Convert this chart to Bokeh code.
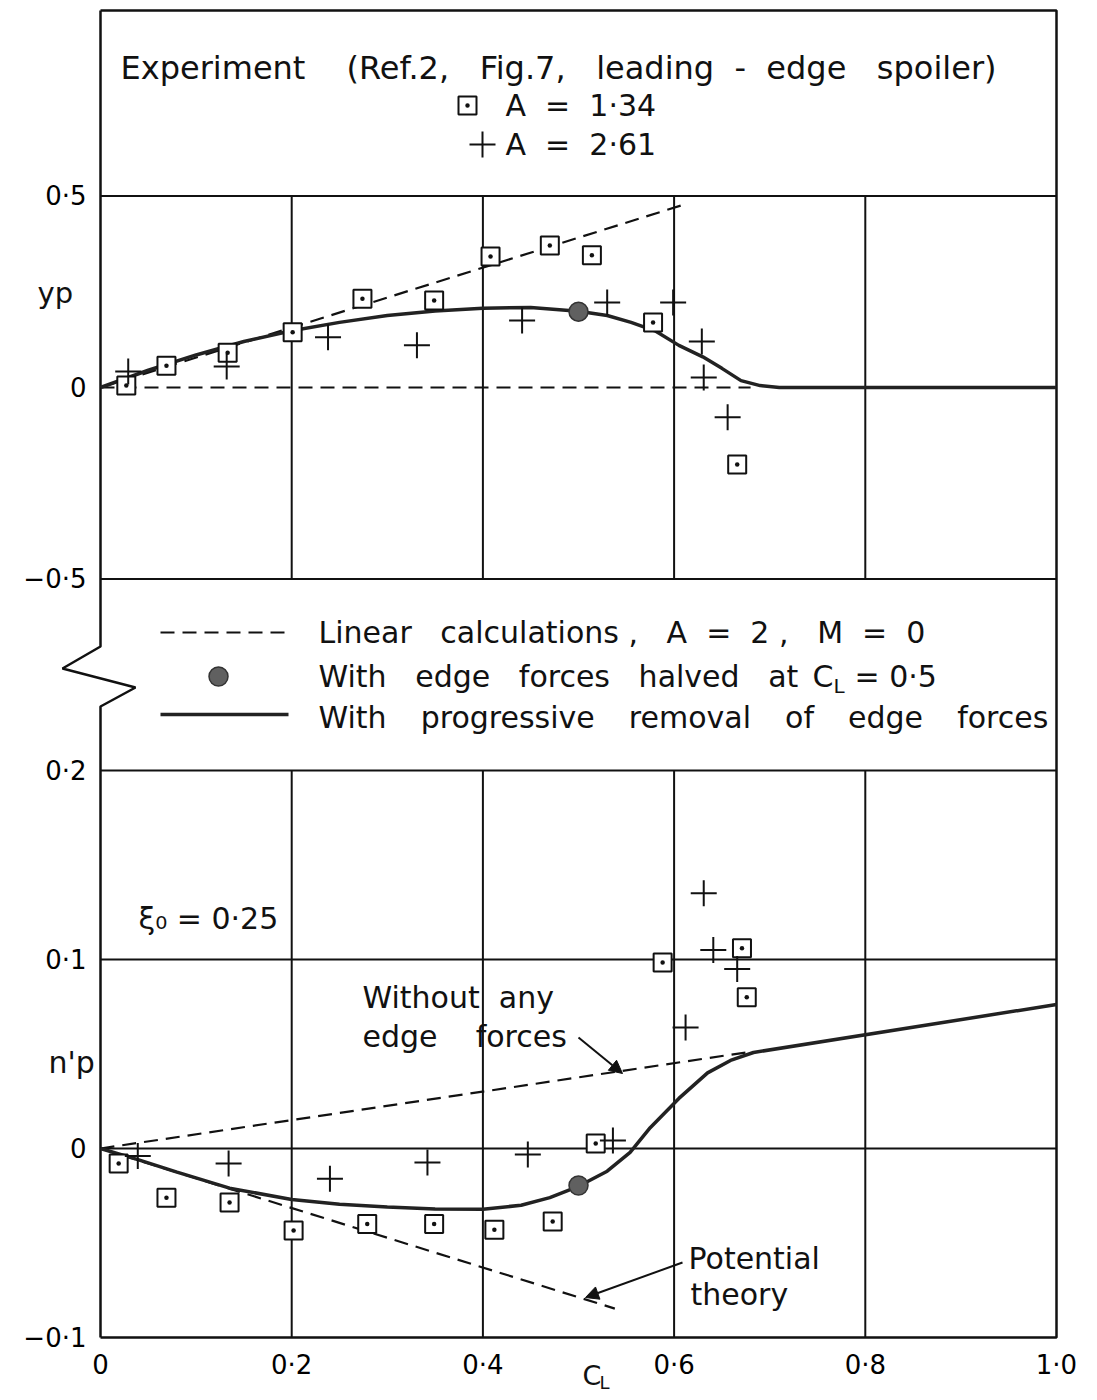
from bokeh.plotting import figure
from bokeh.models import Range1d, FixedTicker, Arrow, NormalHead
from bokeh.core.properties import value
from bokeh.embed import file_html
from bokeh.resources import INLINE

FONT = "DejaVu Sans"
NB = "\u00a0"   # non-collapsing space for the wide lettering gaps
EN = "\u2002"

# ---------------- data ----------------
# upper panel: y_p against C_L
sq_top_cl = [0.027, 0.069, 0.133, 0.201, 0.274, 0.349, 0.408, 0.470, 0.514, 0.578, 0.666]
sq_top_yp = [0.005, 0.057, 0.091, 0.144, 0.232, 0.227, 0.342, 0.371, 0.345, 0.170, -0.201]
pl_top_cl = [0.029, 0.132, 0.238, 0.331, 0.441, 0.530, 0.599, 0.629, 0.631, 0.656]
pl_top_yp = [0.042, 0.055, 0.131, 0.110, 0.175, 0.222, 0.222, 0.120, 0.026, -0.078]
lin_top_cl = [0.0, 0.607]
lin_top_yp = [0.0, 0.475]
zero_top_cl = [0.0, 0.68]
zero_top_yp = [0.0, 0.0]
prog_top_cl = [0.0, 0.05, 0.10, 0.15, 0.20, 0.25, 0.30, 0.35, 0.40, 0.45, 0.50, 0.53,
               0.555, 0.58, 0.605, 0.63, 0.65, 0.67, 0.69, 0.71, 1.0]
prog_top_yp = [0.0, 0.045, 0.085, 0.120, 0.148, 0.170, 0.188, 0.200, 0.207, 0.209, 0.199, 0.188,
               0.170, 0.148, 0.110, 0.080, 0.050, 0.018, 0.005, 0.0, 0.0]
half_cl = [0.5]
half_top_yp = [0.198]

# lower panel: n_p against C_L
sq_bot_cl = [0.019, 0.069, 0.135, 0.202, 0.279, 0.349, 0.412, 0.473, 0.518, 0.588, 0.671, 0.676]
sq_bot_np = [-0.0079, -0.026, -0.0286, -0.0434, -0.040, -0.040, -0.043, -0.0386, 0.0026, 0.0984, 0.106, 0.080]
pl_bot_cl = [0.039, 0.134, 0.240, 0.342, 0.447, 0.536, 0.612, 0.631, 0.641, 0.666]
pl_bot_np = [-0.004, -0.008, -0.016, -0.0074, -0.0032, 0.0042, 0.064, 0.135, 0.105, 0.095]
noedge_cl = [0.0, 0.675]
noedge_np = [0.0, 0.0508]
pot_cl = [0.0, 0.538]
pot_np = [0.0, -0.0847]
prog_bot_cl = [0.0, 0.04, 0.08, 0.135, 0.20, 0.25, 0.30, 0.35, 0.40, 0.44, 0.47, 0.50, 0.53,
               0.554, 0.575, 0.605, 0.635, 0.659, 0.683, 1.0]
prog_bot_np = [0.0, -0.006, -0.0125, -0.021, -0.027, -0.0295, -0.031, -0.032, -0.0322, -0.030, -0.026,
               -0.020, -0.012, -0.002, 0.011, 0.0265, 0.040, 0.0466, 0.0508, 0.0762]
half_bot_np = [-0.0196]

# ticks
x_ticks = [0.0, 0.2, 0.4, 0.6, 0.8, 1.0]
x_tick_labels = ["0", "0·2", "0·4", "0·6", "0·8", "1·0"]
yp_ticks = [0.5, 0.0, -0.5]
yp_tick_labels = ["0·5", "0", "−0·5"]
np_ticks = [0.2, 0.1, 0.0, -0.1]
np_tick_labels = ["0·2", "0·1", "0", "−0·1"]
grid_x = [0.2, 0.4, 0.6, 0.8]

# ---------------- page geometry (page pixels) ----------------
X0, XS = 100.0, 956.0          # C_L = 0 at page x 100, 956 px per unit
NP0, NPS = 1148.0, 1890.0      # n_p = 0 at page y 1148
YP0, YPS = 387.0, 383.0        # y_p = 0 at page y 387
FRAME_L, FRAME_R, FRAME_T, FRAME_B = 20, 1080, 8, 1396


def cx(px):
    return (px - X0) / XS


def cnp(py):
    return (NP0 - py) / NPS


def cyp(py):
    return (YP0 - py) / YPS


x_range = Range1d(cx(FRAME_L), cx(FRAME_R))
np_range = Range1d(cnp(FRAME_B), cnp(FRAME_T))
yp_range = Range1d(cyp(FRAME_B), cyp(FRAME_T))


def np_of_yp(v):
    # same frame pixel for both ranges
    f = (v - yp_range.start) / (yp_range.end - yp_range.start)
    return np_range.start + f * (np_range.end - np_range.start)


p = figure(width=FRAME_R + 10, height=FRAME_B,
           x_range=x_range, y_range=np_range,
           output_backend="svg", toolbar_location=None,
           min_border_left=FRAME_L, min_border_right=10, min_border_top=FRAME_T, min_border_bottom=0,
           outline_line_color=None, background_fill_color="white", border_fill_color="white")
p.extra_y_ranges = {"yp": yp_range}
p.grid.visible = False

# axes fixed on the frame lines
p.xaxis.fixed_location = -0.1
p.xaxis.ticker = FixedTicker(ticks=x_ticks)
p.xaxis.major_label_overrides = dict(zip(x_ticks, x_tick_labels))
left_ticks = [np_of_yp(v) for v in yp_ticks] + np_ticks
p.yaxis.fixed_location = 0.0
p.yaxis.ticker = FixedTicker(ticks=left_ticks)
p.yaxis.major_label_overrides = dict(zip(left_ticks, yp_tick_labels + np_tick_labels))
for ax in (p.xaxis, p.yaxis):
    ax.axis_line_color = None
    ax.major_tick_line_color = None
    ax.minor_tick_line_color = None
    ax.major_tick_in = 0
    ax.major_tick_out = 0
    ax.major_label_text_font = FONT
    ax.major_label_text_font_size = "26px"
    ax.major_label_text_color = "black"
p.xaxis.major_label_standoff = 12
p.yaxis.major_label_standoff = 14

INK = "#111111"
GRID_W = 2

# ---------------- frame and grid ----------------
TOP = cnp(10)
# upper panel grid
p.segment(x0=grid_x, y0=[0.5] * 4, x1=grid_x, y1=[-0.5] * 4, y_range_name="yp",
          line_color=INK, line_width=GRID_W)
p.segment(x0=[0, 0], y0=[0.5, -0.5], x1=[1, 1], y1=[0.5, -0.5], y_range_name="yp",
          line_color=INK, line_width=GRID_W)
# lower panel grid
p.segment(x0=grid_x, y0=[0.2] * 4, x1=grid_x, y1=[-0.1] * 4, line_color=INK, line_width=GRID_W)
p.segment(x0=[0, 0, 0], y0=[0.2, 0.1, 0.0], x1=[1, 1, 1], y1=[0.2, 0.1, 0.0],
          line_color=INK, line_width=GRID_W)
# outer border with break on the left
p.line([0, 1, 1, 0], [TOP, TOP, -0.1, -0.1], line_color=INK, line_width=2.5)
p.line([0, 0, cx(62), cx(135), 0, 0],
       [TOP, cnp(646), cnp(668), cnp(687), cnp(706), -0.1], line_color=INK, line_width=2.5)

# ---------------- curves ----------------
DASH = "14 8"
p.line(lin_top_cl, lin_top_yp, y_range_name="yp", line_color=INK, line_width=2.2, line_dash=DASH)
p.line(zero_top_cl, zero_top_yp, y_range_name="yp", line_color=INK, line_width=2.2, line_dash=DASH)
p.line(prog_top_cl, prog_top_yp, y_range_name="yp", line_color="#222222", line_width=3.5)

p.line(noedge_cl, noedge_np, line_color=INK, line_width=2.2, line_dash=DASH)
p.line(pot_cl, pot_np, line_color=INK, line_width=2.2, line_dash=DASH)
p.line(prog_bot_cl, prog_bot_np, line_color="#222222", line_width=3.5)

# ---------------- markers ----------------
SQ = dict(marker="square_dot", size=18, line_width=2, line_color=INK, fill_color="white")
PL = dict(marker="cross", size=26, line_width=2, line_color=INK)
CI = dict(marker="circle", size=19, line_width=1.5, line_color="#333333", fill_color="#606060")

p.scatter(sq_top_cl, sq_top_yp, y_range_name="yp", **SQ)
p.scatter(pl_top_cl, pl_top_yp, y_range_name="yp", **PL)
p.scatter(half_cl, half_top_yp, y_range_name="yp", **CI)
p.scatter(sq_bot_cl, sq_bot_np, **SQ)
p.scatter(pl_bot_cl, pl_bot_np, **PL)
p.scatter(half_cl, half_bot_np, **CI)

# ---------------- key in the top box ----------------
p.scatter([cx(467)], [cyp(105)], y_range_name="yp", **SQ)
p.scatter([cx(482)], [cyp(144)], y_range_name="yp", **PL)

# ---------------- key in the middle box ----------------
p.line([cx(160), cx(290)], [cyp(632)] * 2, y_range_name="yp", line_color=INK, line_width=2.2, line_dash=DASH)
p.scatter([cx(218)], [cyp(676)], y_range_name="yp", **CI)
p.line([cx(160), cx(288)], [cyp(714)] * 2, y_range_name="yp", line_color="#222222", line_width=3.5)


def txt(items, rng=None, size="30px", align="left"):
    kw = dict(x=[cx(a) for a, b, t in items],
              text=[t for a, b, t in items],
              text_font=value(FONT), text_font_size=size, text_color=INK,
              text_baseline="middle", text_align=align)
    if rng == "yp":
        kw["y"] = [cyp(b) for a, b, t in items]
        kw["y_range_name"] = "yp"
    else:
        kw["y"] = [cnp(b) for a, b, t in items]
    p.text(**kw)


G2 = NB * 2 + " "
G3 = EN + NB + " "
title2 = "(Ref.2," + G2 + "Fig.7," + G2 + "leading" + NB + " - " + NB + "edge" + G2 + "spoiler)"
txt([(120, 67, "Experiment"), (346, 67, title2)], rng="yp", size="32px")
txt([(505, 105, "A" + NB + " = " + NB + "1·34"), (505, 144, "A" + NB + " = " + NB + "2·61")],
    rng="yp", size="30px")
line1 = ("Linear" + G2 + "calculations ," + G2 + "A" + NB + " = " + NB + "2 ," + G2
         + "M" + NB + " = " + NB + "0")
line2 = "With" + G2 + "edge" + G2 + "forces" + G2 + "halved" + G2 + "at"
line3 = "With" + G3 + "progressive" + G3 + "removal" + G3 + "of" + G3 + "edge" + G3 + "forces"
txt([(318, 632, line1),
     (318, 676, line2),
     (812, 676, "C"),
     (854, 676, "= 0·5"),
     (318, 717, line3)], rng="yp", size="30px")
txt([(833, 685, "L")], rng="yp", size="20px")
txt([(37, 292, "yp")], rng="yp", size="29px")

txt([(138, 918, "ξ₀ = 0·25"),
     (362, 997, "Without" + NB + " any"),
     (362, 1036, "edge" + NB * 3 + " forces"),
     (688, 1258, "Potential"),
     (690, 1294, "theory"),
     (48, 1062, "n'p")], size="30px")
txt([(582, 1375, "C")], size="27px")
txt([(599, 1382, "L")], size="18px")

# ---------------- arrows ----------------
p.add_layout(Arrow(end=NormalHead(size=13, fill_color=INK, line_color=INK, line_width=1),
                   x_start=cx(578), y_start=cnp(1037), x_end=cx(622), y_end=cnp(1073),
                   line_color=INK, line_width=2))
p.add_layout(Arrow(end=NormalHead(size=13, fill_color=INK, line_color=INK, line_width=1),
                   x_start=cx(682), y_start=cnp(1262), x_end=cx(585), y_end=cnp(1297),
                   line_color=INK, line_width=2))

open("out.html", "w").write(file_html(p, INLINE))
